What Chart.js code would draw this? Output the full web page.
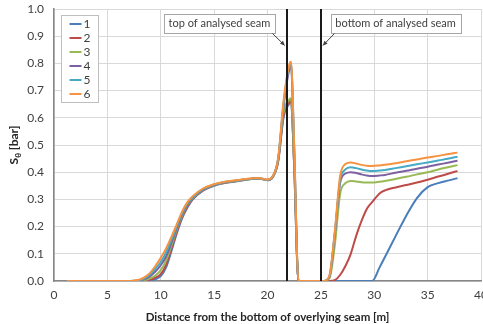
<!DOCTYPE html>
<html>
<head>
<meta charset="utf-8">
<script src="https://cdn.jsdelivr.net/npm/chart.js@4"></script>
<style>
  html, body { margin: 0; padding: 0; background: #fff; }
  #wrap { width: 483px; height: 324px; }
</style>
</head>
<body>
<div id="wrap"><canvas id="chart" width="483" height="324"></canvas></div>
<script>
// distance from the bottom of the overlying seam [m]
const distances = [1.2, 4, 7, 7.5, 8, 8.5, 9, 9.5, 10, 10.5,
    11, 11.5, 12, 12.5, 13, 14, 15, 16, 17, 18,
    19, 19.5, 20, 20.5, 21, 21.5, 22, 22.2, 22.5, 22.9,
    24, 25.3, 25.8, 26.3, 26.8, 27.3, 27.8, 28.3, 28.8, 29.3,
    29.8, 30.5, 31, 32, 33, 34, 35, 36, 37, 37.8];

const seriesNames = ['1', '2', '3', '4', '5', '6'];
const seriesColors = ['#4a7ebb', '#be4b48', '#98b954', '#7d60a0', '#46aac5', '#f69240'];

// S_theta [bar] for each case
const s1 = [0, 0, 0, 0, 0, 0, 0.002, 0.007, 0.018, 0.05,
    0.11, 0.175, 0.23, 0.27, 0.3, 0.333, 0.35, 0.36, 0.366, 0.372,
    0.377, 0.375, 0.37, 0.382, 0.44, 0.6, 0.65, 0.66, 0.42, 0,
    0, 0, 0, 0, 0, 0, 0, 0, 0, 0,
    0, 0.05, 0.088, 0.165, 0.24, 0.305, 0.345, 0.36, 0.37, 0.378];
const s2 = [0, 0, 0, 0, 0, 0.001, 0.005, 0.012, 0.025, 0.06,
    0.12, 0.18, 0.235, 0.275, 0.302, 0.335, 0.352, 0.361, 0.367, 0.373,
    0.377, 0.375, 0.371, 0.383, 0.44, 0.61, 0.655, 0.665, 0.42, 0,
    0, 0, 0, 0.003, 0.022, 0.055, 0.1, 0.165, 0.22, 0.265,
    0.29, 0.322, 0.333, 0.344, 0.353, 0.362, 0.372, 0.384, 0.395, 0.405];
const s3 = [0, 0, 0, 0, 0.001, 0.004, 0.01, 0.02, 0.04, 0.075,
    0.13, 0.19, 0.24, 0.28, 0.305, 0.337, 0.353, 0.362, 0.368, 0.373,
    0.377, 0.375, 0.371, 0.383, 0.445, 0.62, 0.665, 0.672, 0.43, 0,
    0, 0, 0.01, 0.13, 0.32, 0.36, 0.368, 0.366, 0.363, 0.362,
    0.362, 0.365, 0.368, 0.375, 0.383, 0.392, 0.4, 0.41, 0.419, 0.426];
const s4 = [0, 0, 0, 0, 0.002, 0.007, 0.018, 0.035, 0.058, 0.09,
    0.14, 0.195, 0.245, 0.283, 0.307, 0.338, 0.354, 0.363, 0.369, 0.374,
    0.378, 0.376, 0.371, 0.384, 0.448, 0.64, 0.77, 0.79, 0.48, 0,
    0, 0, 0.015, 0.17, 0.36, 0.395, 0.4, 0.397, 0.392, 0.388,
    0.386, 0.388, 0.39, 0.398, 0.405, 0.413, 0.42, 0.428, 0.436, 0.442];
const s5 = [0, 0, 0, 0.001, 0.003, 0.01, 0.024, 0.045, 0.07, 0.105,
    0.15, 0.2, 0.25, 0.286, 0.309, 0.339, 0.355, 0.364, 0.369, 0.374,
    0.378, 0.376, 0.372, 0.385, 0.45, 0.65, 0.785, 0.8, 0.49, 0,
    0, 0, 0.018, 0.175, 0.37, 0.41, 0.418, 0.415, 0.41, 0.406,
    0.404, 0.406, 0.408, 0.415, 0.422, 0.429, 0.436, 0.443, 0.45, 0.457];
const s6 = [0, 0, 0, 0.002, 0.005, 0.014, 0.03, 0.055, 0.085, 0.12,
    0.162, 0.208, 0.255, 0.29, 0.312, 0.341, 0.356, 0.365, 0.37, 0.375,
    0.379, 0.377, 0.373, 0.386, 0.452, 0.66, 0.79, 0.806, 0.5, 0,
    0, 0, 0.02, 0.18, 0.385, 0.43, 0.436, 0.432, 0.427, 0.424,
    0.423, 0.425, 0.427, 0.433, 0.44, 0.447, 0.454, 0.46, 0.467, 0.472];
const seriesValues = [s1, s2, s3, s4, s5, s6];

// seam boundaries [m]
const seamTop = 21.8;
const seamBottom = 25.0;

const FONT = 'Lato, "Open Sans", sans-serif';
const ctxt = document.getElementById('chart').getContext('2d');

function buildDatasets() {
    return seriesNames.map((name, i) => ({
        label: name,
        data: distances.map((d, j) => ({ x: d, y: seriesValues[i][j] })),
        borderColor: seriesColors[i],
        backgroundColor: seriesColors[i],
        borderWidth: 2,
        pointRadius: 0,
        cubicInterpolationMode: 'monotone',
        fill: false,
        // later series are painted over earlier ones
        order: seriesNames.length - i
    }));
}

// callout box with an arrow pointing at a seam line
function drawCallout(ctx, text, cx, cy, tipX, tipY, fromLeft) {
    ctx.font = '11px ' + FONT;
    const w = Math.round(ctx.measureText(text).width + 9);
    const h = 19;
    const left = Math.round(cx - w / 2) + 0.5;
    const top = Math.round(cy - h / 2) + 0.5;
    ctx.fillStyle = '#fff';
    ctx.fillRect(left, top, w, h);
    ctx.strokeStyle = '#a6a6a6';
    ctx.lineWidth = 1;
    ctx.strokeRect(left, top, w, h);
    ctx.fillStyle = '#404040';
    ctx.textAlign = 'center';
    ctx.textBaseline = 'middle';
    ctx.fillText(text, cx, cy + 0.5);

    const sx = fromLeft ? left + w - 3 : left + 3;
    const sy = top + h;
    ctx.strokeStyle = '#404040';
    ctx.beginPath();
    ctx.moveTo(sx, sy);
    ctx.lineTo(tipX, tipY);
    ctx.stroke();
    const ang = Math.atan2(tipY - sy, tipX - sx);
    ctx.fillStyle = '#404040';
    ctx.beginPath();
    ctx.moveTo(tipX, tipY);
    ctx.lineTo(tipX - 5 * Math.cos(ang - 0.45), tipY - 5 * Math.sin(ang - 0.45));
    ctx.lineTo(tipX - 5 * Math.cos(ang + 0.45), tipY - 5 * Math.sin(ang + 0.45));
    ctx.closePath();
    ctx.fill();
}

const overlays = {
    id: 'overlays',
    afterDatasetsDraw(chart) {
        const ctx = chart.ctx;
        const xs = chart.scales.x;
        const ys = chart.scales.y;
        const area = chart.chartArea;
        ctx.save();

        // seam boundary lines
        ctx.strokeStyle = '#1a1a1a';
        ctx.lineWidth = 2;
        [seamTop, seamBottom].forEach((v) => {
            const px = Math.round(xs.getPixelForValue(v));
            ctx.beginPath();
            ctx.moveTo(px, area.top);
            ctx.lineTo(px, area.bottom);
            ctx.stroke();
        });

        drawCallout(ctx, 'top of analysed seam',
            xs.getPixelForValue(15.5), ys.getPixelForValue(0.948),
            xs.getPixelForValue(seamTop) - 2, ys.getPixelForValue(0.866), true);
        drawCallout(ctx, 'bottom of analysed seam',
            xs.getPixelForValue(32.0), ys.getPixelForValue(0.948),
            xs.getPixelForValue(seamBottom) + 2, ys.getPixelForValue(0.866), false);

        // legend box
        const lx = area.left + 7.5;
        const ly = area.top + 6.5;
        ctx.fillStyle = '#fff';
        ctx.fillRect(lx, ly, 37, 87);
        ctx.strokeStyle = '#bfbfbf';
        ctx.lineWidth = 1;
        ctx.strokeRect(lx, ly, 37, 87);
        ctx.font = '12px ' + FONT;
        ctx.textAlign = 'left';
        ctx.textBaseline = 'middle';
        seriesNames.forEach((name, i) => {
            const y = ly + 8.5 + i * 14;
            ctx.strokeStyle = seriesColors[i];
            ctx.lineWidth = 2;
            ctx.beginPath();
            ctx.moveTo(lx + 8, y);
            ctx.lineTo(lx + 20, y);
            ctx.stroke();
            ctx.fillStyle = '#404040';
            ctx.fillText(name, lx + 22, y + 0.5);
        });

        // y axis title with subscript
        ctx.translate(14, (area.top + area.bottom) / 2);
        ctx.rotate(-Math.PI / 2);
        ctx.fillStyle = '#262626';
        ctx.textBaseline = 'middle';
        ctx.font = 'bold 12px ' + FONT;
        const sW = ctx.measureText('S').width;
        ctx.font = 'bold 8px ' + FONT;
        const subW = ctx.measureText('θ').width;
        ctx.font = 'bold 12px ' + FONT;
        const restW = ctx.measureText(' [bar]').width;
        let x0 = -(sW + subW + restW) / 2;
        ctx.textAlign = 'left';
        ctx.fillText('S', x0, 0);
        ctx.font = 'bold 8px ' + FONT;
        ctx.fillText('θ', x0 + sW, 4);
        ctx.font = 'bold 12px ' + FONT;
        ctx.fillText(' [bar]', x0 + sW + subW, 0);
        ctx.restore();
    }
};

const chart = new Chart(ctxt, {
    type: 'line',
    data: { datasets: buildDatasets() },
    options: {
        responsive: false,
        animation: false,
        events: [],
        layout: { padding: { top: 9, right: 2, left: 0, bottom: 0 } },
        plugins: { legend: { display: false }, tooltip: { enabled: false } },
        scales: {
            x: {
                type: 'linear',
                min: 0,
                max: 40,
                ticks: {
                    stepSize: 5,
                    padding: 7,
                    maxRotation: 0,
                    color: '#404040',
                    font: { family: FONT, size: 12 }
                },
                grid: { color: '#d9d9d9', drawTicks: false },
                border: { color: '#868686', width: 1.5 },
                title: {
                    display: true,
                    text: 'Distance from the bottom of overlying seam [m]',
                    color: '#262626',
                    font: { family: FONT, size: 11.5, weight: 'bold' },
                    padding: { top: 3, bottom: 0 }
                },
                afterFit(scale) {
                    scale.height = 43;
                    scale.paddingRight = 0;
                    scale.paddingLeft = 0;
                }
            },
            y: {
                min: 0,
                max: 1,
                ticks: {
                    stepSize: 0.1,
                    padding: 10,
                    color: '#404040',
                    font: { family: FONT, size: 12 },
                    callback: (v) => v.toFixed(1)
                },
                grid: { color: '#d9d9d9', drawTicks: false },
                border: { color: '#868686', width: 1.5 },
                afterFit(scale) {
                    scale.width = 54;
                    scale.paddingTop = 0;
                    scale.paddingBottom = 0;
                }
            }
        }
    },
    plugins: [overlays]
});
</script>
</body>
</html>
